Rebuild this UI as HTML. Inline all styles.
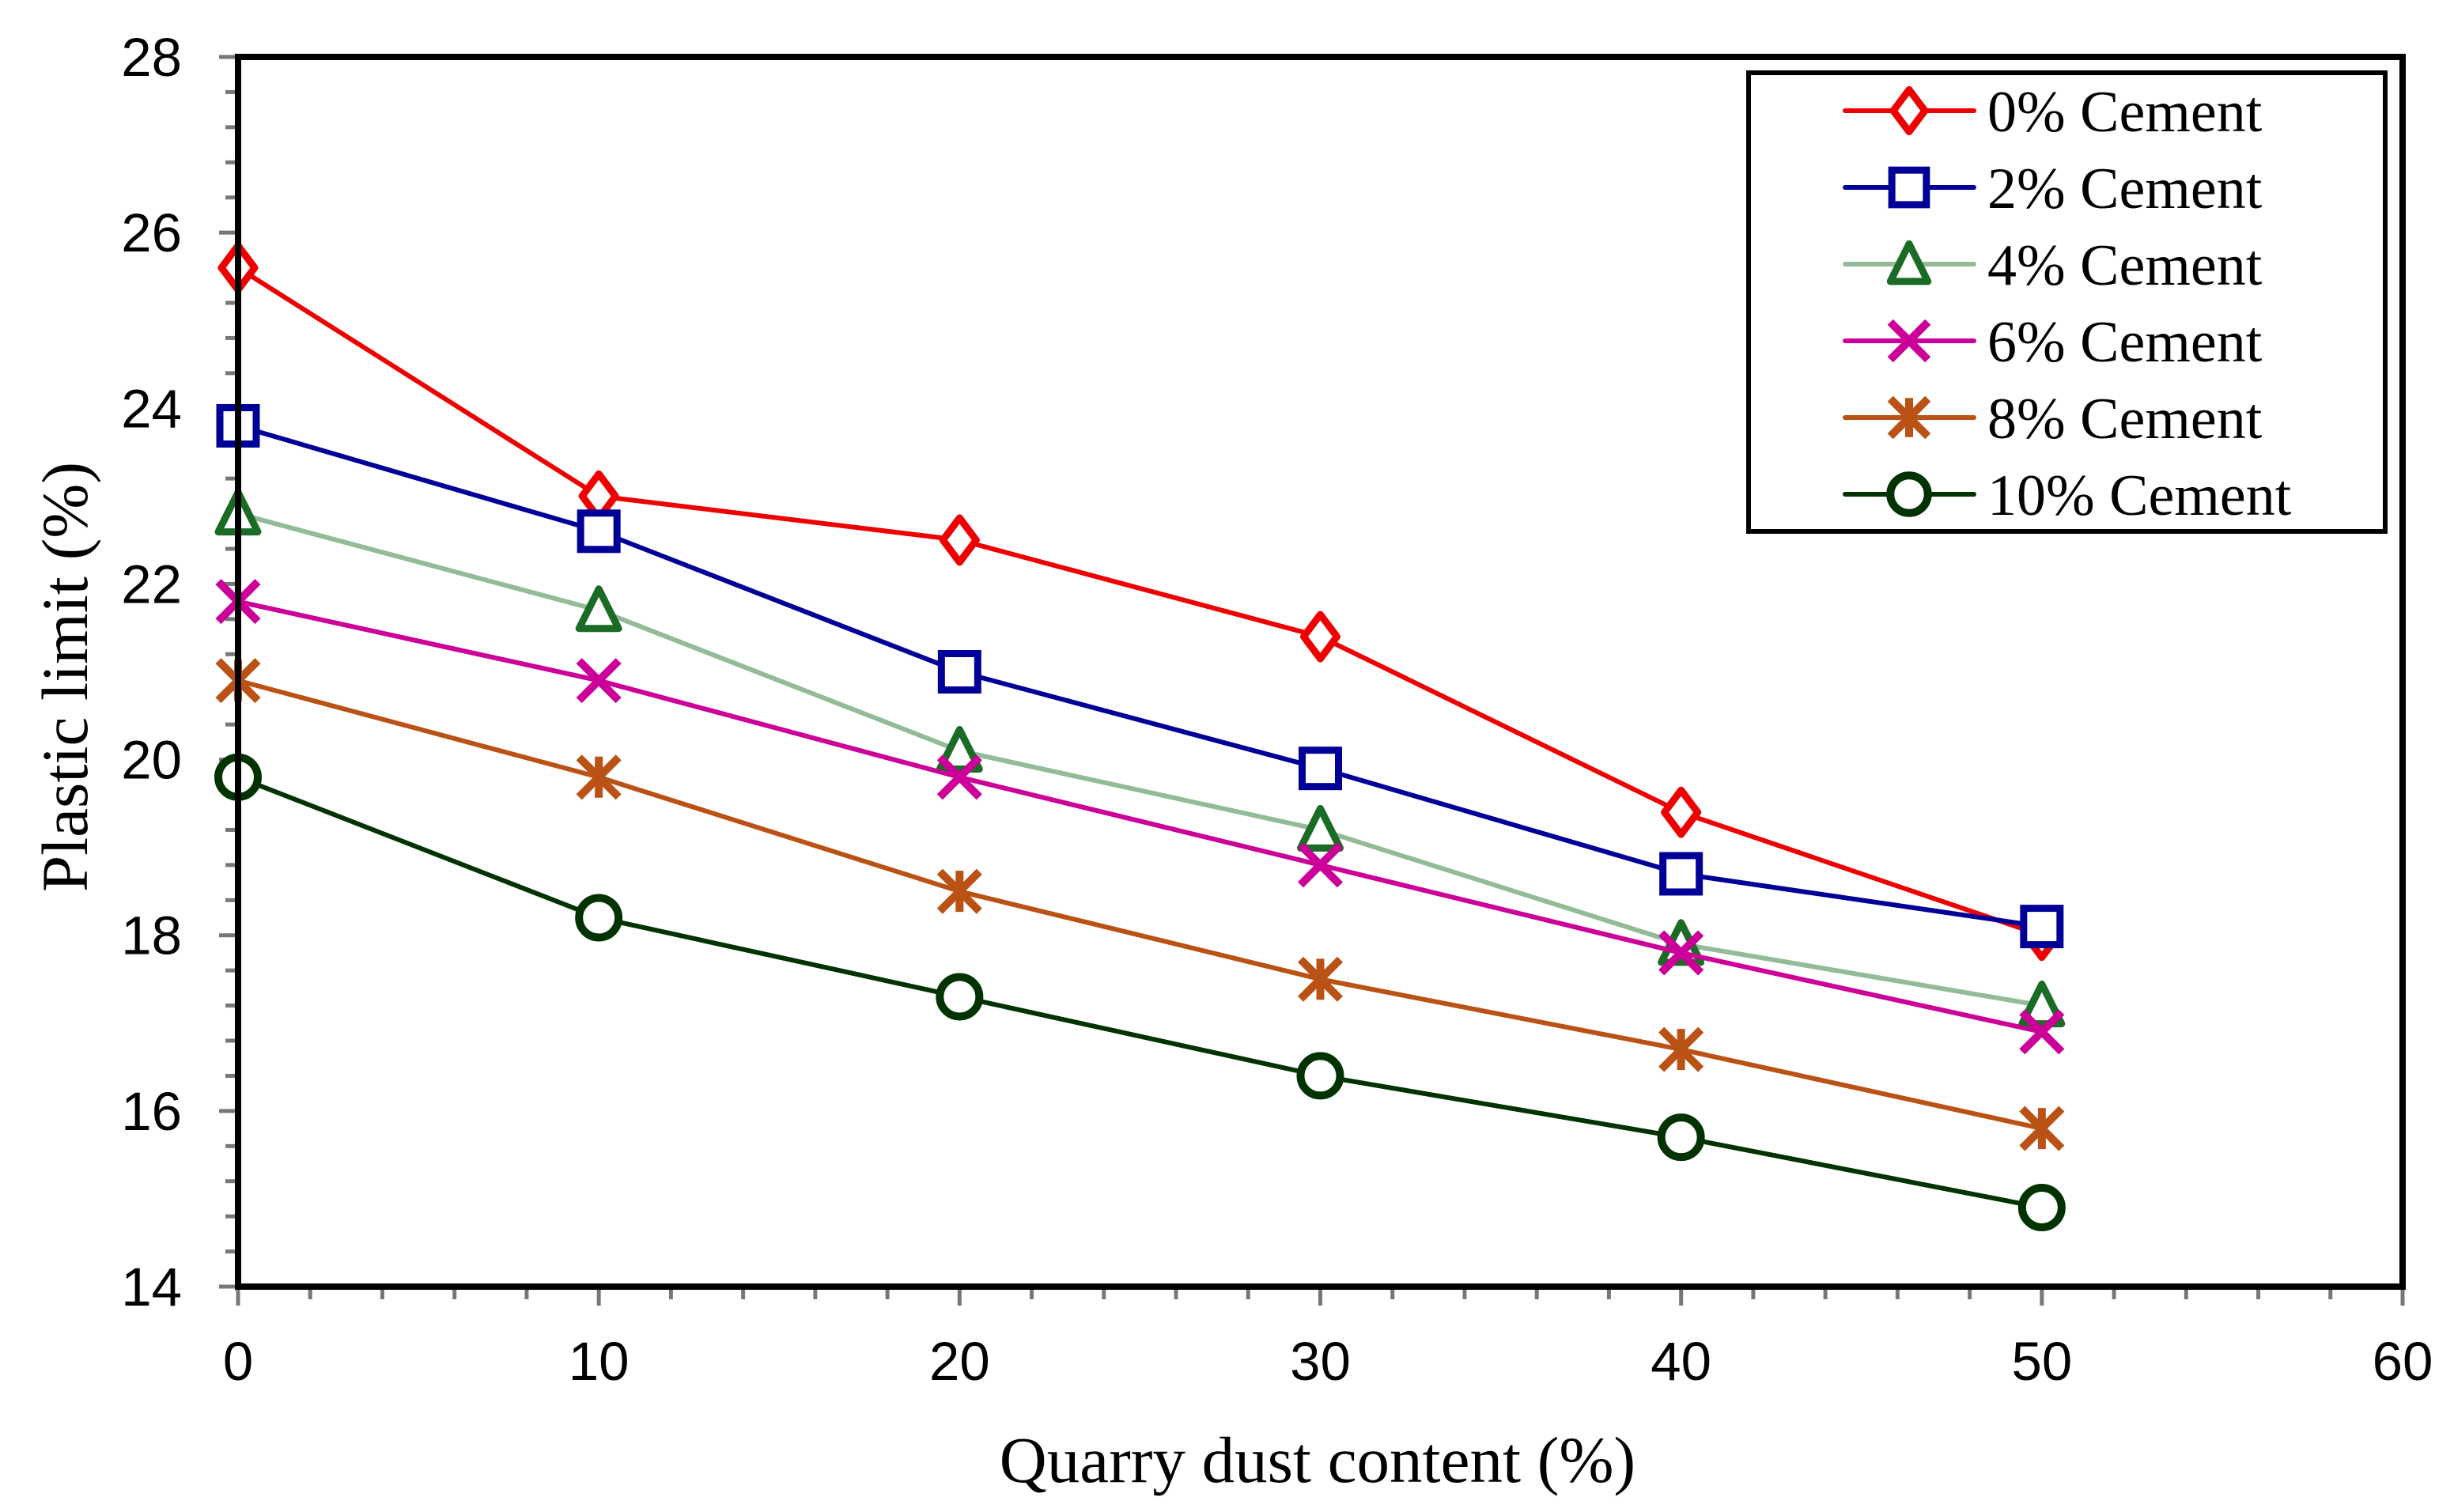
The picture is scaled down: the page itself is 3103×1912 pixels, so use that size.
<!DOCTYPE html>
<html><head><meta charset="utf-8"><style>
html,body{margin:0;padding:0;background:#fff;}
svg{display:block;}
</style></head><body>
<svg id="chart" width="3103" height="1912" viewBox="0 0 3103 1912" xmlns="http://www.w3.org/2000/svg">
<rect x="0" y="0" width="3103" height="1912" fill="#fff"/>
<g id="ticks"></g>
<g id="series"></g>
<rect x="301" y="72" width="2737" height="1555" fill="none" stroke="#000" stroke-width="8"/>
<g id="labels" font-family="Liberation Sans, Arial, sans-serif" font-size="69" fill="#000"></g>
<text x="1666" y="1874" text-anchor="middle" font-family="Liberation Serif, serif" font-size="83">Quarry dust content (%)</text>
<text transform="translate(82,856) rotate(-90)" text-anchor="middle" dominant-baseline="central" font-family="Liberation Serif, serif" font-size="83">Plastic limit (%)</text>
<g id="legend">
<rect x="2211" y="92" width="805" height="580" fill="#fff" stroke="#000" stroke-width="6"/>
</g>
</svg>
<script>
const xValues = [0, 10, 20, 30, 40, 50];
const seriesNames = ["0% Cement","2% Cement","4% Cement","6% Cement","8% Cement","10% Cement"];
const cement0 = [25.6, 23.0, 22.5, 21.4, 19.4, 18.0];
const cement2 = [23.8, 22.6, 21.0, 19.9, 18.7, 18.1];
const cement4 = [22.8, 21.7, 20.1, 19.2, 17.9, 17.2];
const cement6 = [21.8, 20.9, 19.8, 18.8, 17.8, 16.9];
const cement8 = [20.9, 19.8, 18.5, 17.5, 16.7, 15.8];
const cement10 = [19.8, 18.2, 17.3, 16.4, 15.7, 14.9];
const xTickLabels = [0, 10, 20, 30, 40, 50, 60];
const yTickLabels = [14, 16, 18, 20, 22, 24, 26, 28];

const NS = "http://www.w3.org/2000/svg";
const X0 = 301, X1 = 3038, Y0 = 1627, Y1 = 72;
function sx(v){ return X0 + (v - 0) / 60 * (X1 - X0); }
function sy(v){ return Y0 - (v - 14) / 14 * (Y0 - Y1); }
function mk(tag, attrs, parent){ const e = document.createElementNS(NS, tag); for (const k in attrs) e.setAttribute(k, attrs[k]); parent.appendChild(e); return e; }

const ticks = document.getElementById('ticks');
const labels = document.getElementById('labels');
for (let v = 14; v <= 28.001; v += 0.4) {
  const major = Math.abs(v / 2 - Math.round(v / 2)) < 1e-6;
  const t = mk('line', {x1: X0 - (major ? 24 : 16), x2: X0, y1: sy(v), y2: sy(v), stroke: '#777', 'stroke-width': 5}, ticks);
  
  
}
for (let v = 0; v <= 60.001; v += 2) {
  const major = Math.abs(v / 10 - Math.round(v / 10)) < 1e-6;
  const t = mk('line', {x1: sx(v), x2: sx(v), y1: Y0, y2: Y0 + (major ? 24 : 16), stroke: '#777', 'stroke-width': 5}, ticks);
  
  
}
yTickLabels.forEach(v => {
  const t = mk('text', {x: 230, y: sy(v) + 24, 'text-anchor': 'end'}, labels);
  t.textContent = v;
  
  
});
xTickLabels.forEach(v => {
  const t = mk('text', {x: sx(v), y: 1745, 'text-anchor': 'middle'}, labels);
  t.textContent = v;
  
  
});

const styles = [
  {data: cement0, line: '#ee0000', mark: '#ee0000', shape: 'diamond'},
  {data: cement2, line: '#000099', mark: '#000099', shape: 'square'},
  {data: cement4, line: '#94bb98', mark: '#1a6b25', shape: 'triangle'},
  {data: cement6, line: '#cc0099', mark: '#cc0099', shape: 'x'},
  {data: cement8, line: '#bb5215', mark: '#bb5215', shape: 'star'},
  {data: cement10, line: '#003300', mark: '#003300', shape: 'circle'}
];

function marker(g, shape, x, y, c, scale){
  const s = scale || 1;
  let e;
  if (shape === 'diamond') {
    e = mk('polygon', {points: `${x},${y-28*s} ${x+21*s},${y} ${x},${y+28*s} ${x-21*s},${y}`, fill: '#fff', stroke: c, 'stroke-width': 9, 'stroke-linejoin': 'round'}, g);
  } else if (shape === 'square') {
    e = mk('rect', {x: x-23*s, y: y-23*s, width: 46*s, height: 46*s, fill: '#fff', stroke: c, 'stroke-width': 9}, g);
  } else if (shape === 'triangle') {
    e = mk('polygon', {points: `${x},${y-27*s} ${x+25*s},${y+23*s} ${x-25*s},${y+23*s}`, fill: '#fff', stroke: c, 'stroke-width': 9, 'stroke-linejoin': 'round'}, g);
  } else if (shape === 'x') {
    e = mk('path', {d: `M${x-25*s},${y-25*s}L${x+25*s},${y+25*s}M${x+25*s},${y-25*s}L${x-25*s},${y+25*s}`, stroke: c, 'stroke-width': 10, fill: 'none'}, g);
  } else if (shape === 'star') {
    e = mk('path', {d: `M${x-25*s},${y-25*s}L${x+25*s},${y+25*s}M${x+25*s},${y-25*s}L${x-25*s},${y+25*s}M${x},${y-26*s}L${x},${y+26*s}`, stroke: c, 'stroke-width': 10, fill: 'none'}, g);
  } else {
    e = mk('circle', {cx: x, cy: y, r: 25*s, fill: '#fff', stroke: c, 'stroke-width': 10}, g);
  }
  
  
}

const seriesG = document.getElementById('series');
styles.forEach((st, i) => {
  const g = mk('g', {}, seriesG);
  
  
  const pts = st.data.map((v, j) => `${sx(xValues[j])},${sy(v)}`).join(' ');
  const pl = mk('polyline', {points: pts, fill: 'none', stroke: st.line, 'stroke-width': 6, 'stroke-linejoin': 'round'}, g);
  
  
  st.data.forEach((v, j) => marker(g, st.shape, sx(xValues[j]), sy(v), st.mark));
});

const legend = document.getElementById('legend');
styles.forEach((st, i) => {
  const y = 140 + i * 97;
  const g = mk('g', {}, legend);
  
  
  mk('line', {x1: 2333, x2: 2496, y1: y, y2: y, stroke: st.line, 'stroke-width': 6, 'stroke-linecap': 'round'}, g);
  marker(g, st.shape, 2414, y, st.mark, 0.95);
  const t = mk('text', {x: 2513, y: y + 26, 'font-family': 'Liberation Serif, serif', 'font-size': 74}, g);
  t.textContent = seriesNames[i];
  
  
});
</script>
</body></html>
